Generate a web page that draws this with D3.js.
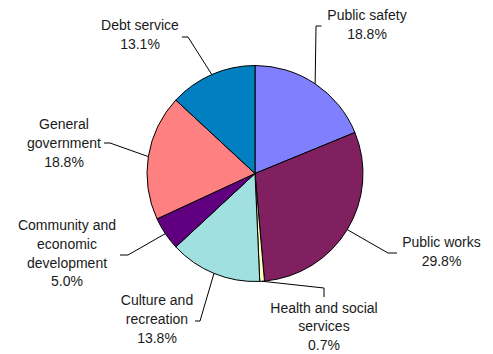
<!DOCTYPE html>
<html>
<head>
<meta charset="utf-8">
<script src="https://cdn.jsdelivr.net/npm/d3@7"></script>
<style>
  body { margin: 0; background: #fff; }
  text { font-family: "Liberation Sans", Arial, sans-serif; font-size: 14px; fill: #1a1a1a; }
</style>
</head>
<body>
<script>
// data
var categories = ["Public safety", "Public works", "Health and social services",
                  "Culture and recreation", "Community and economic development",
                  "General government", "Debt service"];
var shares = [18.8, 29.8, 0.7, 13.8, 5.0, 18.8, 13.1];
var labelLines = [
  ["Public safety", "18.8%"],
  ["Public works", "29.8%"],
  ["Health and social", "services", "0.7%"],
  ["Culture and", "recreation", "13.8%"],
  ["Community and", "economic", "development", "5.0%"],
  ["General", "government", "18.8%"],
  ["Debt service", "13.1%"]
];
var couleur = ["#8080FF", "#802060", "#FFFFC0", "#A0E0E0", "#600080", "#FF8080", "#0080C0"];

// label layout: text centre, first baseline, leader elbow, leader end
var layout = [
  {tx: 367, ty: 20,  ex: 316, ey: 26,  hx: 321.5, hy: 26},
  {tx: 441.5, ty: 247, ex: 388, ey: 253, hx: 397, hy: 253},
  {tx: 324, ty: 312.5, ex: 324, ey: 288, hx: 324, hy: 297},
  {tx: 157, ty: 305, ex: 200, ey: 321, hx: 195, hy: 321},
  {tx: 67,  ty: 230, ex: 128, ey: 255, hx: 120, hy: 255},
  {tx: 64,  ty: 129, ex: 110, ey: 143, hx: 104, hy: 143},
  {tx: 140, ty: 30,  ex: 188, ey: 37,  hx: 182, hy: 37}
];

var width = 493, height = 354;
var cx = 255, cy = 173.5, radius = 108;
var lineH = 18.8;

var svg = d3.select("body").append("svg")
  .attr("width", width)
  .attr("height", height);

var pie = d3.pie().sort(null).value(function(d){ return d; });
var arcs = pie(shares);
var arc = d3.arc().innerRadius(0).outerRadius(radius);

var g = svg.append("g").attr("transform", "translate(" + cx + "," + cy + ")");

g.selectAll("path.slice")
  .data(arcs)
  .enter().append("path")
  .attr("class", "slice")
  .attr("d", arc)
  .attr("fill", function(d, i){ return couleur[i]; })
  .attr("stroke", "#000")
  .attr("stroke-width", 1)
  .attr("stroke-linejoin", "round");

// leader lines
arcs.forEach(function(d, i){
  var a = (d.startAngle + d.endAngle) / 2;
  var px = cx + radius * Math.sin(a), py = cy - radius * Math.cos(a);
  var L = layout[i];
  svg.append("polyline")
    .attr("points", [[px, py], [L.ex, L.ey], [L.hx, L.hy]].map(function(p){ return p.join(","); }).join(" "))
    .attr("fill", "none")
    .attr("stroke", "#000")
    .attr("stroke-width", 1);

  var t = svg.append("text")
    .attr("text-anchor", "middle")
    .attr("x", L.tx)
    .attr("y", L.ty);
  labelLines[i].forEach(function(s, k){
    t.append("tspan")
      .attr("x", L.tx)
      .attr("y", L.ty + k * lineH)
      .text(s);
  });
});
</script>
</body>
</html>
